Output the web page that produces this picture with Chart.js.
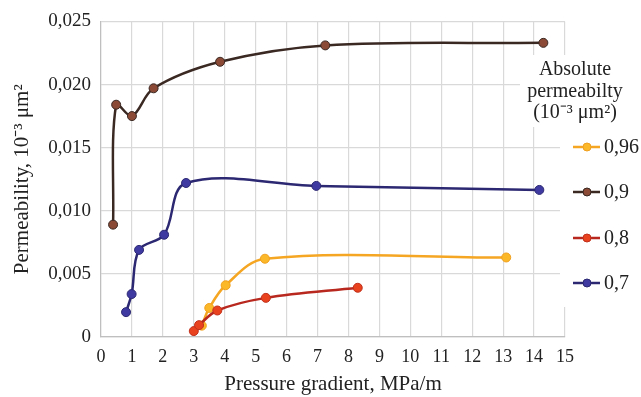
<!DOCTYPE html>
<html>
<head>
<meta charset="utf-8">
<script src="https://cdn.jsdelivr.net/npm/chart.js@4/dist/chart.umd.min.js"></script>
<style>
html,body{margin:0;padding:0;background:#fff;}
#wrap{width:641px;height:397px;position:relative;}
</style>
</head>
<body>
<div id="wrap"><canvas id="c" width="641" height="397"></canvas></div>
<script>
// Data
const seriesLabels = ["0,96", "0,9", "0,8", "0,7"];
const x096 = [3.26, 3.5, 4.03, 5.3, 13.1];
const y096 = [0.0009, 0.0023, 0.0041, 0.0062, 0.0063];
const x09 = [0.39, 0.49, 1.0, 1.7, 3.85, 7.25, 14.3];
const y09 = [0.0089, 0.0184, 0.0175, 0.0197, 0.0218, 0.0231, 0.0233];
const x08 = [3.0, 3.17, 3.76, 5.33, 8.3];
const y08 = [0.00047, 0.00094, 0.0021, 0.0031, 0.0039];
const x07 = [0.81, 0.99, 1.23, 2.04, 2.75, 6.96, 14.17];
const y07 = [0.00197, 0.0034, 0.0069, 0.0081, 0.0122, 0.01197, 0.01165];
const xTicks = [0,1,2,3,4,5,6,7,8,9,10,11,12,13,14,15];
const yTicks = [0, 0.005, 0.010, 0.015, 0.020, 0.025];
const legendTitle = ["Absolute", "permeabilty", "(10\u207B\u00B3 \u03BCm\u00B2)"];
const xTitle = "Pressure gradient, MPa/m";
const yTitle = "Permeability, 10\u207B\u00B3 \u03BCm\u00B2";

const pts = (xs, ys) => xs.map((x, i) => ({x: x, y: ys[i]}));
const FONT = "'Liberation Serif', 'Times New Roman', serif";

const styles = [
  {line: "#f5a623", fill: "#fbb829", border: "#f0a020", order: 3},
  {line: "#3a2823", fill: "#8a4a35", border: "#3a2823", order: 2},
  {line: "#b8281e", fill: "#e8421e", border: "#c0301c", order: 0},
  {line: "#2c2872", fill: "#3e3aa2", border: "#2c2872", order: 1}
];
const dataArr = [pts(x096, y096), pts(x09, y09), pts(x08, y08), pts(x07, y07)];

const datasets = dataArr.map((d, i) => ({
  label: seriesLabels[i],
  data: d,
  borderColor: styles[i].line,
  backgroundColor: styles[i].fill,
  pointBackgroundColor: styles[i].fill,
  pointBorderColor: styles[i].border,
  pointBorderWidth: 1,
  pointRadius: 4.5,
  borderWidth: 2.5,
  tension: 0.35,
  order: styles[i].order,
  showLine: true,
  fill: false
}));

const legendPlugin = {
  id: "customLegend",
  afterDraw(chart) {
    const ctx = chart.ctx;
    ctx.save();
    ctx.fillStyle = "#fff";
    ctx.fillRect(520, 55, 121, 72);
    ctx.fillRect(560, 127, 81, 180);
    ctx.fillStyle = "#222";
    ctx.font = "20px " + FONT;
    ctx.textAlign = "center";
    ctx.textBaseline = "middle";
    const ty = [70, 92, 113];
    legendTitle.forEach((t, i) => ctx.fillText(t, 575, ty[i]));
    const iy = [147, 192, 238, 283];
    ctx.textAlign = "left";
    chart.data.datasets.forEach((ds, i) => {
      const y = iy[i];
      ctx.strokeStyle = ds.borderColor;
      ctx.lineWidth = 2.5;
      ctx.beginPath();
      ctx.moveTo(573, y);
      ctx.lineTo(600, y);
      ctx.stroke();
      ctx.beginPath();
      ctx.arc(587, y, 4, 0, Math.PI * 2);
      ctx.fillStyle = ds.pointBackgroundColor;
      ctx.fill();
      ctx.lineWidth = 1;
      ctx.strokeStyle = ds.pointBorderColor;
      ctx.stroke();
      ctx.fillStyle = "#222";
      ctx.fillText(ds.label, 604, y + 1);
    });
    ctx.restore();
  }
};

new Chart(document.getElementById("c"), {
  type: "scatter",
  data: {datasets: datasets},
  options: {
    responsive: false,
    animation: false,
    devicePixelRatio: 1,
    layout: {padding: {top: 20, right: 76, left: 0, bottom: 0}},
    plugins: {legend: {display: false}, tooltip: {enabled: false}},
    scales: {
      x: {
        type: "linear",
        min: 0, max: 15,
        afterBuildTicks: (s) => { s.ticks = xTicks.map(v => ({value: v})); },
        ticks: {color: "#222", font: {family: FONT, size: 18}, padding: 9},
        grid: {color: "#d9d9d9", lineWidth: 1.2, drawTicks: false},
        border: {color: "#bfbfbf", width: 1.2},
        title: {display: true, text: xTitle, color: "#222", font: {family: FONT, size: 21}, padding: {top: 8, bottom: 0}},
        afterFit: (s) => { s.height = 60; }
      },
      y: {
        type: "linear",
        min: 0, max: 0.025,
        afterBuildTicks: (s) => { s.ticks = yTicks.map(v => ({value: v})); },
        ticks: {
          color: "#222", font: {family: FONT, size: 19}, padding: 10,
          callback: (v) => v === 0 ? "0" : v.toFixed(3).replace(".", ",")
        },
        grid: {color: "#d9d9d9", lineWidth: 1.2, drawTicks: false},
        border: {color: "#bfbfbf", width: 1.2},
        title: {display: true, text: yTitle, color: "#222", font: {family: FONT, size: 21}, padding: {top: 10, bottom: 0}},
        afterFit: (s) => { s.width = 101; }
      }
    }
  },
  plugins: [legendPlugin]
});
</script>
</body>
</html>
